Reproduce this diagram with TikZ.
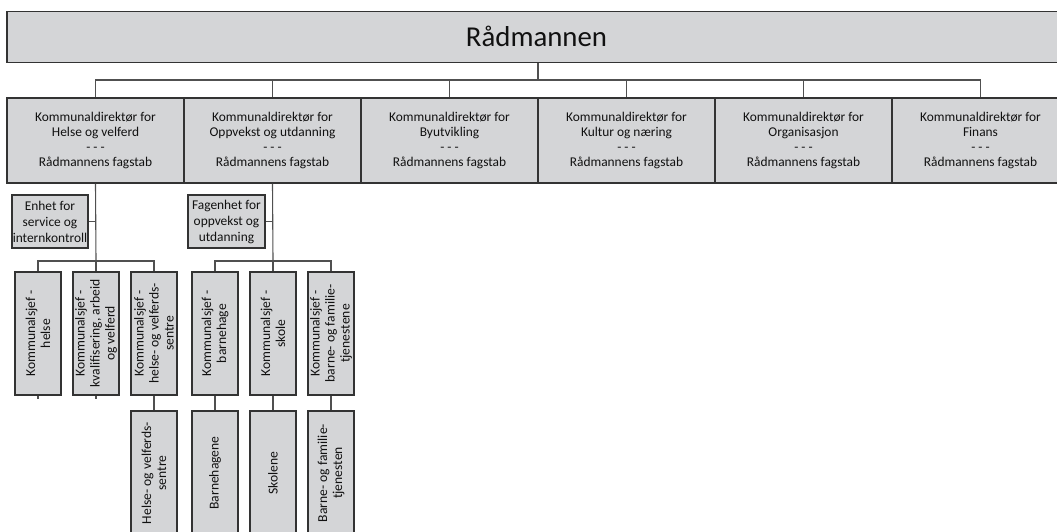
\documentclass[tikz,border=0pt]{standalone}
\usepackage{fontspec}
\setmainfont{Carlito}
\definecolor{boxfill}{HTML}{D4D5D7}
\definecolor{boxline}{HTML}{333333}
\definecolor{conn}{HTML}{505050}
\definecolor{txt}{HTML}{111111}
\begin{document}
\begin{tikzpicture}[x=1pt,y=-1pt,
  box/.style={draw=boxline,fill=boxfill,line width=1.5pt,inner sep=0pt,text=txt,align=center},
  topbox/.style={box,minimum width=1059,minimum height=51,font=\fontsize{28.8}{30}\selectfont},
  dirbox/.style={box,minimum width=177,minimum height=85,font=\fontsize{13.4}{15.3}\selectfont},
  unitbox/.style={box,minimum width=76,minimum height=53,font=\fontsize{13.4}{16}\selectfont},
  sjefbox/.style={box,rotate=90,minimum width=123,minimum height=46,font=\fontsize{13.6}{15}\selectfont},
  lowbox/.style={box,rotate=90,minimum width=124,minimum height=46,font=\fontsize{13.6}{15}\selectfont},
  conn/.style={draw=conn,line width=1.1pt}]
\useasboundingbox (0,0) rectangle (1057,532);
\clip (0,0) rectangle (1057,532);
\fill[white] (0,0) rectangle (1057,532);
% top
\node[topbox] (top) at (536.5,36.8) {Rådmannen};
% directors
\node[dirbox] (d1) at (95.5,140.5) {Kommunaldirektør for\\Helse og velferd\\- - -\\Rådmannens fagstab};
\node[dirbox] (d2) at (272.5,140.5) {Kommunaldirektør for\\Oppvekst og utdanning\\- - -\\Rådmannens fagstab};
\node[dirbox] (d3) at (449.5,140.5) {Kommunaldirektør for\\Byutvikling\\- - -\\Rådmannens fagstab};
\node[dirbox] (d4) at (626.5,140.5) {Kommunaldirektør for\\Kultur og næring\\- - -\\Rådmannens fagstab};
\node[dirbox] (d5) at (803.5,140.5) {Kommunaldirektør for\\Organisasjon\\- - -\\Rådmannens fagstab};
\node[dirbox] (d6) at (980.5,140.5) {Kommunaldirektør for\\Finans\\- - -\\Rådmannens fagstab};
% staff units
\node[unitbox] (e1) at (50,221.5) {Enhet for\\service og\\internkontroll};
\node[unitbox,minimum width=77] (e2) at (226.5,221.5) {Fagenhet for\\oppvekst og\\utdanning};
% kommunalsjefer
\node[sjefbox] (s1) at (38,333.5) {Kommunalsjef -\\helse};
\node[sjefbox] (s2) at (96,333.5) {Kommunalsjef -\\kvalifisering, arbeid\\og velferd};
\node[sjefbox] (s3) at (154,333.5) {Kommunalsjef -\\helse- og velferds-\\sentre};
\node[sjefbox] (s4) at (215,333.5) {Kommunalsjef -\\barnehage};
\node[sjefbox] (s5) at (273,333.5) {Kommunalsjef -\\skole};
\node[sjefbox] (s6) at (331,333.5) {Kommunalsjef -\\barne- og familie-\\tjenestene};
% lower units
\node[lowbox] (u3) at (154,473) {Helse- og velferds-\\sentre};
\node[lowbox] (u4) at (215,473) {Barnehagene};
\node[lowbox] (u5) at (273,473) {Skolene};
\node[lowbox] (u6) at (331,473) {Barne- og familie-\\tjenesten};
% connectors
\coordinate (bus) at (538,80);
\draw[conn] (top.south -| bus) -- (bus);
\foreach \d in {d1,d2,d3,d4,d5,d6} {\draw[conn] (bus) -| (\d.north);}
\coordinate (b1) at (96,261);
\coordinate (b2) at (273,261);
\draw[conn] (d1.south) -- (b1);
\draw[conn] (d2.south) -- (b2);
\draw[conn] (e1.east) -- (e1.east -| b1);
\draw[conn] (e2.east) -- (e2.east -| b2);
\foreach \s in {s1,s2,s3} {\draw[conn] (b1) -| (\s.east);}
\foreach \s in {s4,s5,s6} {\draw[conn] (b2) -| (\s.east);}
\draw[conn] (s3.west) -- (u3.east);
\draw[conn] (s4.west) -- (u4.east);
\draw[conn] (s5.west) -- (u5.east);
\draw[conn] (s6.west) -- (u6.east);
\coordinate (t1) at ([yshift=-3]s1.west);
\coordinate (t2) at ([yshift=-3]s2.west);
\draw[conn] (s1.west) -- (t1);
\draw[conn] (s2.west) -- (t2);
\end{tikzpicture}
\end{document}
